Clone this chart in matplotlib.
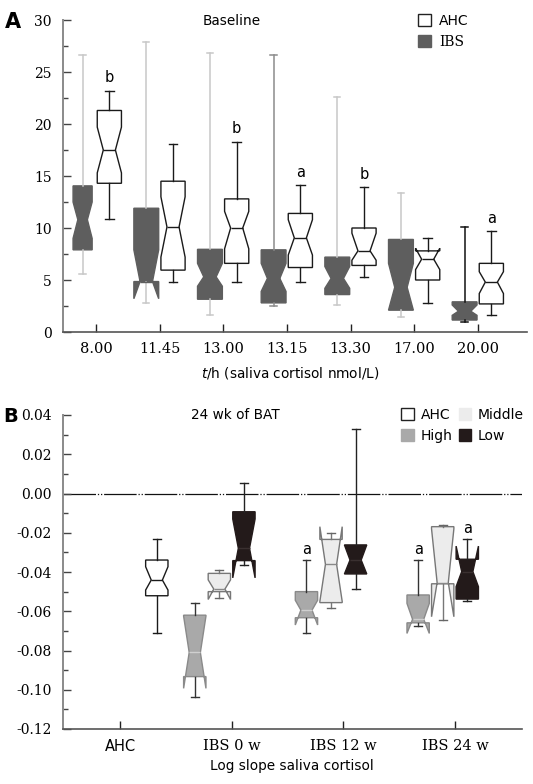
import matplotlib
matplotlib.use("Agg")
import matplotlib.pyplot as plt
from matplotlib.patches import Patch
from matplotlib.ticker import MultipleLocator

plt.rcParams['mathtext.fontset'] = 'dejavusans'

# ---------------- Panel A data ----------------
times = ['8.00', '11.45', '13.00', '13.15', '13.30', '17.00', '20.00']
ibs_whislo = [5.6, 2.8, 1.6, 2.5, 2.6, 1.4, 1.0]
ibs_q1 = [7.9, 4.85, 3.15, 2.8, 3.6, 2.1, 1.15]
ibs_cilo = [9.0, 3.2, 4.4, 3.9, 4.2, 2.1, 1.6]
ibs_med = [10.8, 4.85, 5.3, 5.15, 5.15, 4.3, 2.0]
ibs_cihi = [12.5, 7.9, 6.6, 6.6, 6.3, 6.6, 2.6]
ibs_q3 = [14.05, 11.9, 7.95, 7.9, 7.2, 8.9, 2.9]
ibs_whishi = [26.6, 27.85, 26.8, 26.6, 22.6, 13.4, 10.1]

ahc_whislo = [10.9, 4.85, 4.85, 4.85, 5.25, 2.8, 1.6]
ahc_q1 = [14.3, 5.95, 6.6, 6.2, 6.4, 5.0, 2.7]
ahc_cilo = [15.3, 7.2, 8.0, 7.4, 6.9, 6.0, 3.7]
ahc_med = [17.5, 10.1, 10.0, 9.05, 7.8, 7.0, 4.8]
ahc_cihi = [19.7, 13.0, 11.6, 10.8, 9.5, 8.05, 5.8]
ahc_q3 = [21.3, 14.5, 12.8, 11.4, 10.0, 7.8, 6.6]
ahc_whishi = [23.2, 18.1, 18.3, 14.1, 13.9, 9.07, 9.7]
ahc_sig = ['b', '', 'b', 'a', 'b', '', 'a']

# ---------------- Panel B data ----------------
groups = ['AHC', 'IBS 0 w', 'IBS 12 w', 'IBS 24 w']
ctl_stats = dict(whislo=-0.0713, q1=-0.0521, cilo=-0.0492, med=-0.0441,
                 cihi=-0.0373, q3=-0.0339, whishi=-0.0234)

high_whislo = [-0.1035, -0.0712, -0.0675]
high_q1 = [-0.0933, -0.0633, -0.0659]
high_cilo = [-0.0993, -0.067, -0.0713]
high_med = [-0.081, -0.0594, -0.0641]
high_cihi = [-0.0625, -0.0544, -0.056]
high_q3 = [-0.062, -0.050, -0.0517]
high_whishi = [-0.0556, -0.0339, -0.0339]
high_sig = ['', 'a', 'a']

mid_whislo = [-0.053, -0.0585, -0.0644]
mid_q1 = [-0.050, -0.0556, -0.046]
mid_cilo = [-0.054, -0.055, -0.0628]
mid_med = [-0.0487, -0.0361, -0.0454]
mid_cihi = [-0.044, -0.0169, -0.018]
mid_q3 = [-0.0407, -0.0234, -0.0169]
mid_whishi = [-0.039, -0.020, -0.0159]

low_whislo = [-0.0364, -0.0488, -0.0546]
low_q1 = [-0.0342, -0.041, -0.0538]
low_cilo = [-0.043, -0.041, -0.0475]
low_med = [-0.0279, -0.0339, -0.0398]
low_cihi = [-0.013, -0.0262, -0.0268]
low_q3 = [-0.0093, -0.0262, -0.0335]
low_whishi = [0.0055, 0.0331, -0.0234]
low_sig = ['', '', 'a']


def mkstats(wl, q1, cl, md, ch, q3, wh):
    return [dict(whislo=a, q1=b, cilo=c, med=d, cihi=e, q3=f, whishi=g, fliers=[])
            for a, b, c, d, e, f, g in zip(wl, q1, cl, md, ch, q3, wh)]


W, H = 533, 784
fig = plt.figure(figsize=(W / 100, H / 100), dpi=100)

def fx(px):
    return px / W

def fy(py):
    return 1 - py / H

serif = 'DejaVu Serif'
sans = 'DejaVu Sans'
TS = 10

def style_axes(ax):
    for s in ['top', 'right']:
        ax.spines[s].set_visible(False)
    ax.spines['left'].set_color('#8a8a8a')
    ax.spines['bottom'].set_color('#555555')
    ax.spines['left'].set_linewidth(1.4)
    ax.spines['bottom'].set_linewidth(1.2)
    ax.tick_params(axis='y', which='major', direction='in', length=6, width=1,
                   color='#444444', pad=8, labelsize=TS)
    ax.tick_params(axis='y', which='minor', direction='in', length=3.5, width=1,
                   color='#444444')
    ax.tick_params(axis='x', which='major', direction='in', length=6, width=1,
                   color='#222222', pad=7, labelsize=10.5)

# ================= Panel A =================
axA = fig.add_axes([fx(63), fy(332), fx(527 - 63), (332 - 20) / H])
posA = list(range(1, len(times) + 1))
ibs_pos = [p - 0.21 for p in posA]
ahc_pos = [p + 0.21 for p in posA]
ibs_w = [0.30] + [0.39] * 6
ahc_w = [0.38] * 7

ibs_col = '#5e5e5e'
r1 = axA.bxp(mkstats(ibs_whislo, ibs_q1, ibs_cilo, ibs_med, ibs_cihi, ibs_q3, ibs_whishi),
             positions=ibs_pos, widths=ibs_w, shownotches=True, patch_artist=True,
             showfliers=False, capwidths=0.1, manage_ticks=False,
             boxprops=dict(facecolor=ibs_col, edgecolor=ibs_col, linewidth=1),
             medianprops=dict(color=ibs_col, linewidth=1))
wcols = ['#c8c8c8', '#c8c8c8', '#c8c8c8', '#8c8c8c', '#c8c8c8', '#c8c8c8', '#111111']
for i, c in enumerate(wcols):
    for ln in r1['whiskers'][2 * i:2 * i + 2] + r1['caps'][2 * i:2 * i + 2]:
        ln.set_color(c)
        ln.set_linewidth(1.1)

r2 = axA.bxp(mkstats(ahc_whislo, ahc_q1, ahc_cilo, ahc_med, ahc_cihi, ahc_q3, ahc_whishi),
             positions=ahc_pos, widths=ahc_w, shownotches=True, patch_artist=True,
             showfliers=False, capwidths=0.14, manage_ticks=False,
             boxprops=dict(facecolor='white', edgecolor='#1a1a1a', linewidth=1),
             medianprops=dict(color='#1a1a1a', linewidth=1),
             whiskerprops=dict(color='#1a1a1a', linewidth=1),
             capprops=dict(color='#1a1a1a', linewidth=1))

for p, s, v in zip(ahc_pos, ahc_sig, ahc_whishi):
    if s:
        axA.text(p, v + 1.25, s, ha='center', va='center', fontsize=10.5, family=sans)

axA.set_xlim(0.482, 7.77)
axA.set_ylim(0, 30)
axA.yaxis.set_major_locator(MultipleLocator(5))
axA.yaxis.set_minor_locator(MultipleLocator(2.5))
axA.set_xticks(posA)
axA.set_xticklabels(times, family=serif)
style_axes(axA)
axA.set_yticks([0, 5, 10, 15, 20, 25, 30])
axA.set_yticklabels(['0', '5', '10', '15', '20', '25', '30'], family=serif)

legA = axA.legend(handles=[Patch(facecolor='white', edgecolor='#222222', linewidth=1, label='AHC'),
                           Patch(facecolor=ibs_col, edgecolor=ibs_col, label='IBS')],
                  loc='upper left', bbox_to_anchor=(fx(418), fy(14)),
                  bbox_transform=fig.transFigure, frameon=False, fontsize=10,
                  handlelength=0.9, handleheight=0.9, handletextpad=0.6,
                  labelspacing=0.5, borderpad=0, borderaxespad=0)
legA.get_texts()[1].set_fontfamily(serif)

fig.text(fx(232), fy(21), 'Baseline', ha='center', va='center', fontsize=9.8, family=sans)
fig.text(fx(290), fy(373), r'$t$/h (saliva cortisol nmol/L)', ha='center', va='center',
         fontsize=9.8, family=sans)
fig.text(fx(13), fy(22), 'A', ha='center', va='center', fontsize=15, fontweight='bold', family=sans)

# ================= Panel B =================
axB = fig.add_axes([fx(63), fy(729), fx(522 - 63), (729 - 415) / H])
posB = list(range(1, len(groups) + 1))
bw = 0.2

axB.axhline(0, color='#111111', linewidth=0.9, linestyle=(0, (26, 1.5, 1, 1.5, 1, 1.5)), zorder=1)

axB.bxp([dict(ctl_stats, fliers=[])], positions=[posB[0] + 0.33], widths=[bw],
        shownotches=True, patch_artist=True, showfliers=False, capwidths=0.07,
        manage_ticks=False,
        boxprops=dict(facecolor='white', edgecolor='#1a1a1a', linewidth=1),
        medianprops=dict(color='#1a1a1a', linewidth=1),
        whiskerprops=dict(color='#1a1a1a', linewidth=1),
        capprops=dict(color='#1a1a1a', linewidth=1))

high_col, mid_col, low_col = '#a9a9a9', '#ececec', '#231a1a'
ibs_x = posB[1:]
axB.bxp(mkstats(high_whislo, high_q1, high_cilo, high_med, high_cihi, high_q3, high_whishi),
        positions=[p - 0.33 for p in ibs_x], widths=[bw] * 3, shownotches=True,
        patch_artist=True, showfliers=False, capwidths=0.07, manage_ticks=False,
        boxprops=dict(facecolor=high_col, edgecolor='#8a8a8a', linewidth=1),
        medianprops=dict(color='#d0d0d0', linewidth=1),
        whiskerprops=dict(color='#333333', linewidth=1),
        capprops=dict(color='#333333', linewidth=1))
axB.bxp(mkstats(mid_whislo, mid_q1, mid_cilo, mid_med, mid_cihi, mid_q3, mid_whishi),
        positions=[p - 0.11 for p in ibs_x], widths=[bw] * 3, shownotches=True,
        patch_artist=True, showfliers=False, capwidths=0.07, manage_ticks=False,
        boxprops=dict(facecolor=mid_col, edgecolor='#777777', linewidth=1),
        medianprops=dict(color='#888888', linewidth=1),
        whiskerprops=dict(color='#777777', linewidth=1),
        capprops=dict(color='#666666', linewidth=1))
axB.bxp(mkstats(low_whislo, low_q1, low_cilo, low_med, low_cihi, low_q3, low_whishi),
        positions=[p + 0.11 for p in ibs_x], widths=[bw] * 3, shownotches=True,
        patch_artist=True, showfliers=False, capwidths=0.07, manage_ticks=False,
        boxprops=dict(facecolor=low_col, edgecolor=low_col, linewidth=1),
        medianprops=dict(color='#3a3030', linewidth=1),
        whiskerprops=dict(color='#222222', linewidth=1),
        capprops=dict(color='#222222', linewidth=1))

for p, s, v in zip(ibs_x, high_sig, high_whishi):
    if s:
        axB.text(p - 0.33, v + 0.0052, s, ha='center', va='center', fontsize=10.5, family=sans)
for p, s, v in zip(ibs_x, low_sig, low_whishi):
    if s:
        axB.text(p + 0.11, v + 0.0057, s, ha='center', va='center', fontsize=10.5, family=sans)

axB.set_xlim(0.49, 4.6)
axB.set_ylim(-0.12, 0.04)
axB.yaxis.set_major_locator(MultipleLocator(0.02))
axB.yaxis.set_minor_locator(MultipleLocator(0.01))
axB.set_xticks(posB)
axB.set_xticklabels(groups, family=serif)
style_axes(axB)
yt = [-0.12, -0.10, -0.08, -0.06, -0.04, -0.02, 0.00, 0.02, 0.04]
axB.set_yticks(yt)
axB.set_yticklabels(['%.2f' % v for v in yt], family=serif)
axB.get_xticklabels()[0].set_fontfamily(sans)

legB = axB.legend(handles=[Patch(facecolor='white', edgecolor='#222222', linewidth=1, label='AHC'),
                           Patch(facecolor=high_col, edgecolor=high_col, label='High'),
                           Patch(facecolor=mid_col, edgecolor=mid_col, label='Middle'),
                           Patch(facecolor=low_col, edgecolor=low_col, label='Low')],
                  ncol=2, loc='upper left', bbox_to_anchor=(fx(401), fy(408)),
                  bbox_transform=fig.transFigure, frameon=False, fontsize=10,
                  handlelength=0.9, handleheight=0.9, handletextpad=0.5,
                  labelspacing=0.5, columnspacing=0.45, borderpad=0, borderaxespad=0)

fig.text(fx(235), fy(415), '24 wk of BAT', ha='center', va='center', fontsize=9.8, family=sans)
fig.text(fx(292), fy(766), 'Log slope saliva cortisol', ha='center', va='center',
         fontsize=9.8, family=sans)
fig.text(fx(11), fy(416), 'B', ha='center', va='center', fontsize=14, fontweight='bold', family=sans)

fig.savefig('out.png', dpi=100)
